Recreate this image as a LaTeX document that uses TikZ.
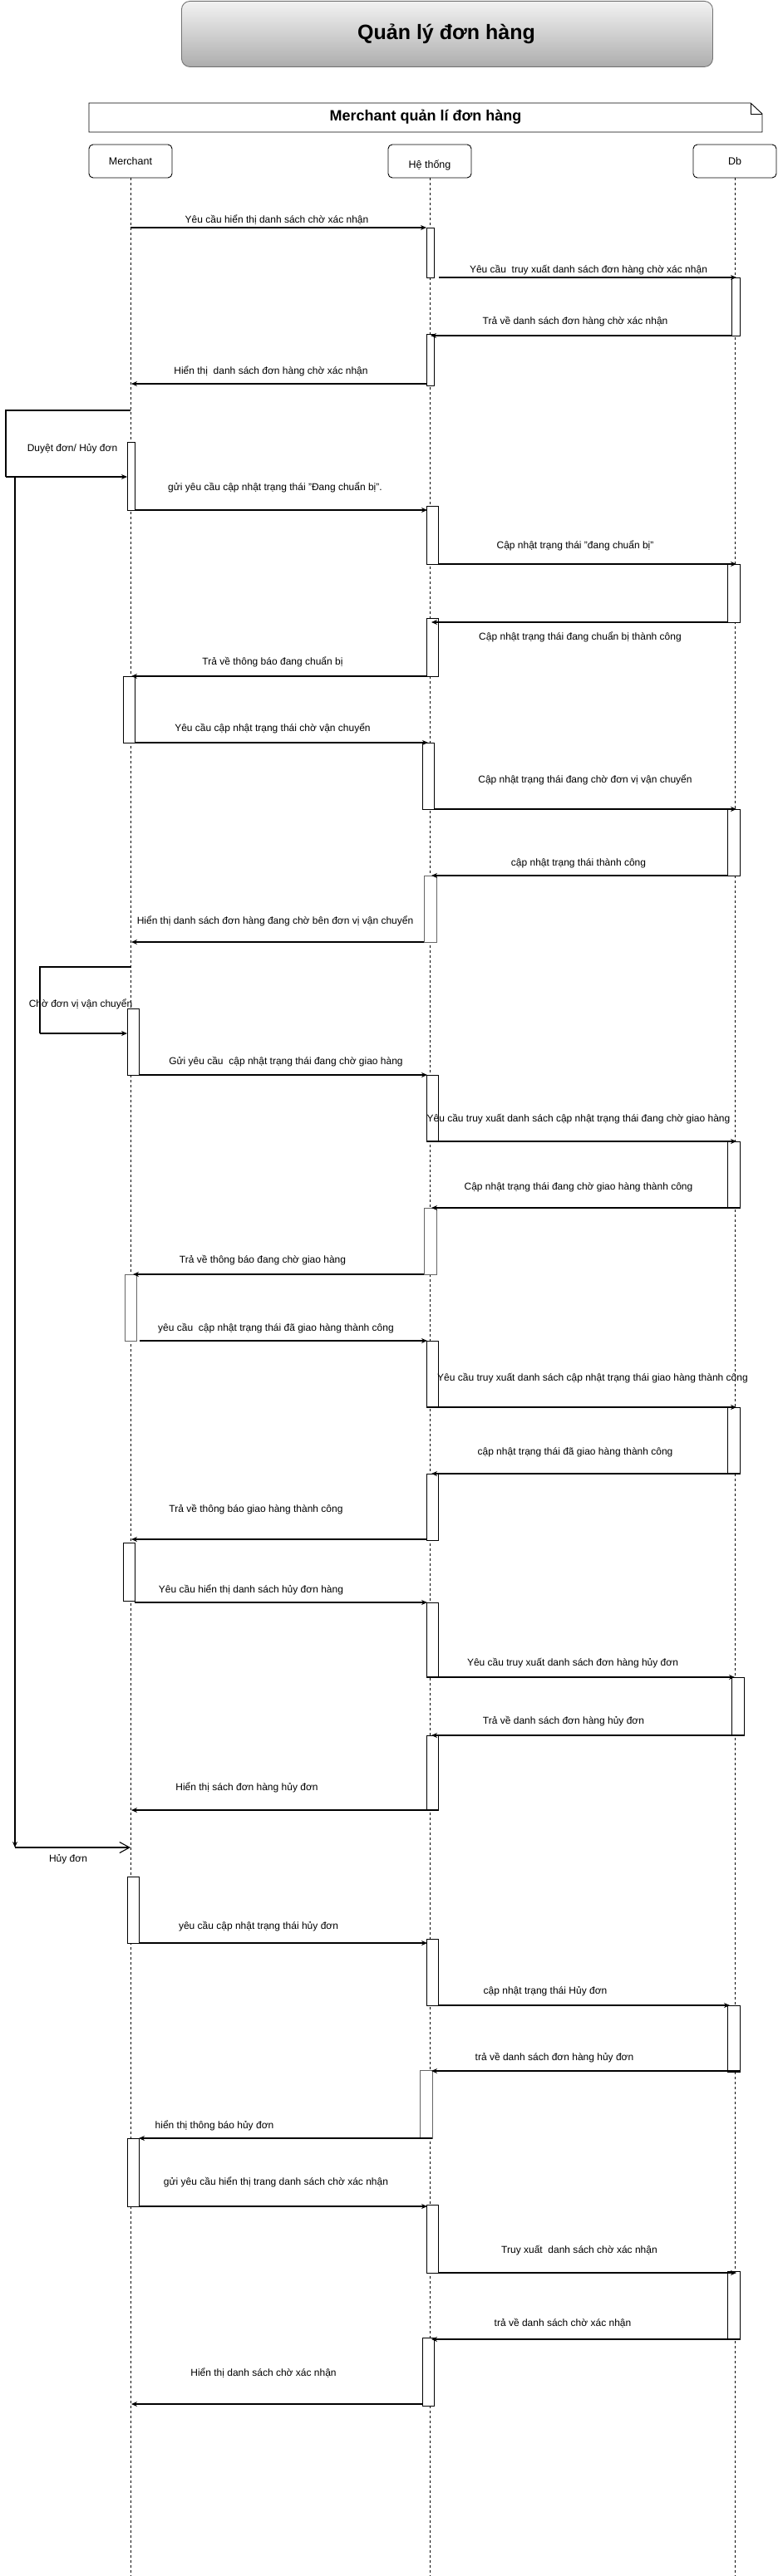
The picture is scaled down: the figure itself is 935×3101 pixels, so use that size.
\documentclass[tikz,border=0pt]{standalone}
\usepackage{fontspec}
\setmainfont{Liberation Sans}
\usetikzlibrary{arrows.meta}
\newcommand{\actv}[6][]{\node[actbox,#1,minimum width={#4-#2},minimum height={#5-#3}] (#6) at (#2,#3) {};}
\newcommand{\msgto}[7]{%
  \coordinate (#1s) at (#3,#2); \coordinate (#1e) at (#4,#2);
  \draw[msg] (#1s) -- (#1e);
  \node[lbl] (#1l) at (#6,#7) {#5};}
\begin{document}
\begin{tikzpicture}[x=1pt,y=-1pt,
  lbl/.style={font=\fontsize{12}{14}\selectfont, inner sep=0pt, anchor=center},
  msg/.style={line width=1.1pt, -{Stealth[length=7pt,width=6pt]}},
  actbox/.style={draw, line width=0.9pt, fill=white, inner sep=0pt, outer sep=0pt, anchor=north west},
  grayact/.style={draw=black!60},
  life/.style={dash pattern=on 3pt off 3pt, line width=0.8pt},
  head/.style={draw, rounded corners=5pt, minimum width=100, minimum height=40, line width=0.9pt, inner sep=0pt, font=\fontsize{12.5}{15}\selectfont},
  loopline/.style={line width=1.1pt}]
\useasboundingbox (0,0) rectangle (935,3101);
% title
\node[draw=black!55, line width=0.9pt, rounded corners=10pt, top color=black!5, bottom color=black!32,
  minimum width=639, minimum height=79, anchor=north west, inner sep=0pt] (title) at (218,1) {};
\node[font=\fontsize{25}{30}\selectfont\bfseries] (titletext) at (537,41) {Quản lý đơn hàng};
% frame note
\draw[line width=0.9pt] (107,124) -- (903,124) -- (917,137) -- (917,159) -- (107,159) -- cycle;
\draw[line width=0.9pt] (903,124) -- (903,137) -- (917,137);
\node[font=\fontsize{18}{22}\selectfont\bfseries] (frametext) at (512,141) {Merchant quản lí đơn hàng};
% heads
\node[head] (Mh) at (157,194) {Merchant};
\node[head] (Hh) at (517,194) {\raisebox{-9pt}[0pt][0pt]{Hệ thống}};
\node[head] (Dh) at (884,194) {Db};
% lifelines
\coordinate (Mend) at (157,3101);
\coordinate (Hend) at (517,3101);
\coordinate (Dend) at (884,3101);
\draw[life] (Mh.south) -- (Mend);
\draw[life] (Hh.south) -- (Hend);
\draw[life] (Dh.south) -- (Dend);
% activations
\actv{513}{274}{522}{334}{H1}
\actv{880}{334}{890}{404}{D1}
\actv{513}{402}{522}{464}{H2}
\actv{153}{532}{162}{614}{M1}
\actv{513}{609}{527}{679}{H3}
\actv{875}{679}{890}{749}{D2}
\actv{513}{744}{527}{814}{H4}
\actv{148}{814}{162}{894}{M2}
\actv{508}{894}{522}{974}{H5}
\actv{875}{974}{890}{1054}{D3}
\actv[grayact]{510}{1054}{525}{1134}{H6}
\actv{153}{1214}{167}{1294}{M3}
\actv{513}{1294}{527}{1374}{H7}
\actv{875}{1374}{890}{1454}{D4}
\actv[grayact]{510}{1454}{525}{1534}{H8}
\actv[grayact]{150}{1534}{164}{1614}{M4}
\actv{513}{1614}{527}{1694}{H9}
\actv{875}{1694}{890}{1774}{D5}
\actv{513}{1774}{527}{1854}{H10}
\actv{148}{1857}{162}{1927}{M5}
\actv{513}{1929}{527}{2019}{H11}
\actv{880}{2019}{895}{2089}{D6}
\actv{513}{2089}{527}{2179}{H12}
\actv{153}{2259}{167}{2339}{M6}
\actv{513}{2334}{527}{2414}{H13}
\actv{875}{2414}{890}{2494}{D7}
\actv[grayact]{505}{2492}{520}{2574}{H14}
\actv{153}{2574}{167}{2656}{M7}
\actv{513}{2654}{527}{2736}{H15}
\actv{875}{2734}{890}{2816}{D8}
\actv{508}{2814}{522}{2896}{H16}
% messages
\msgto{a1}{274}{157}{513}{Yêu cầu hiển thị danh sách chờ xác nhận}{333}{265}
\msgto{a2}{334}{528}{886}{Yêu cầu\ \ truy xuất danh sách đơn hàng chờ xác nhận}{708}{325}
\msgto{a3}{404}{880}{518}{Trả về danh sách đơn hàng chờ xác nhận}{692}{387}
\msgto{a4}{462}{513}{158}{Hiển thị\ \ danh sách đơn hàng chờ xác nhận}{326}{447}
% loop 1
\coordinate (l1a) at (157,494); \coordinate (l1b) at (7,494); \coordinate (l1c) at (7,574);
\draw[loopline] (l1a) -- (l1b) -- (l1c);
\draw[msg] (l1c) -- (M1.west |- l1c);
\node[lbl] (l1t) at (87,540) {Duyệt đơn/ Hủy đơn};
\msgto{a5}{614}{162}{514}{gửi yêu cầu cập nhật trạng thái "Đang chuẩn bị".}{331}{587}
\msgto{a6}{679}{527}{886}{Cập nhật trạng thái "đang chuẩn bị"}{692}{657}
\msgto{a7}{749}{875}{519}{Cập nhật trạng thái đang chuẩn bị thành công}{698}{767}
\msgto{a8}{814}{513}{158}{Trả về thông báo đang chuẩn bị}{328}{797}
\msgto{a9}{894}{162}{515}{Yêu cầu cập nhật trạng thái chờ vận chuyển}{328}{877}
\msgto{a10}{974}{522}{886}{Cập nhật trạng thái đang chờ đơn vị vận chuyển}{704}{939}
\msgto{a11}{1054}{875}{519}{cập nhật trạng thái thành công}{696}{1039}
\msgto{a12}{1134}{510}{158}{Hiển thị danh sách đơn hàng đang chờ bên đơn vị vận chuyển}{331}{1109}
% loop 2
\coordinate (l2a) at (157,1164); \coordinate (l2b) at (48,1164); \coordinate (l2c) at (48,1244);
\draw[loopline] (l2a) -- (l2b) -- (l2c);
\draw[msg] (l2c) -- (M3.west |- l2c);
\node[lbl] (l2t) at (97,1209) {Chờ đơn vị vận chuyển};
\msgto{a13}{1294}{167}{514}{Gửi yêu cầu\ \ cập nhật trạng thái đang chờ giao hàng}{344}{1278}
\msgto{a14}{1374}{513}{886}{Yêu cầu truy xuất danh sách cập nhật trạng thái đang chờ giao hàng}{696}{1347}
\msgto{a15}{1454}{890}{519}{Cập nhật trạng thái đang chờ giao hàng thành công}{696}{1429}
\msgto{a16}{1534}{510}{160}{Trả về thông báo đang chờ giao hàng}{316}{1517}
\msgto{a17}{1614}{168}{514}{yêu cầu\ \ cập nhật trạng thái đã giao hàng thành công}{332}{1599}
\msgto{a18}{1694}{513}{886}{Yêu cầu truy xuất danh sách cập nhật trạng thái giao hàng thành công}{713}{1659}
\msgto{a19}{1774}{890}{519}{cập nhật trạng thái đã giao hàng thành công}{692}{1748}
\msgto{a20}{1853}{513}{158}{Trả về thông báo giao hàng thành công}{308}{1817}
\msgto{a21}{1929}{162}{514}{Yêu cầu hiển thị danh sách hủy đơn hàng}{302}{1914}
\msgto{a22}{2019}{513}{884}{Yêu cầu truy xuất danh sách đơn hàng hủy đơn}{689}{2002}
\msgto{a23}{2089}{895}{519}{Trả về danh sách đơn hàng hủy đơn}{678}{2072}
\msgto{a24}{2179}{527}{158}{Hiển thị sách đơn hàng hủy đơn}{297}{2152}
% cancel branch
\coordinate (hd0) at (18,574); \coordinate (hd1) at (18,2224);
\draw[msg] (hd0) -- (hd1);
\draw[line width=1.1pt, -{Straight Barb[length=12pt,width=13pt]}] (hd1) -- (Mh.center |- hd1);
\node[lbl] (hdt) at (82,2238) {Hủy đơn};
\msgto{a25}{2339}{167}{514}{yêu cầu cập nhật trạng thái hủy đơn}{311}{2319}
\msgto{a26}{2414}{527}{878}{cập nhật trạng thái Hủy đơn}{656}{2397}
\msgto{a27}{2493}{890}{519}{trả về danh sách đơn hàng hủy đơn}{667}{2477}
\msgto{a28}{2574}{520}{167}{hiển thị thông báo hủy đơn}{258}{2559}
\msgto{a29}{2656}{167}{514}{gửi yêu cầu hiển thị trang danh sách chờ xác nhận}{332}{2627}
\msgto{a30}{2736}{527}{886}{Truy xuất\ \ danh sách chờ xác nhận}{697}{2709}
\msgto{a31}{2816}{890}{519}{trả về danh sách chờ xác nhận}{677}{2797}
\msgto{a32}{2894}{508}{158}{Hiển thị danh sách chờ xác nhận}{317}{2857}
\end{tikzpicture}
\end{document}
